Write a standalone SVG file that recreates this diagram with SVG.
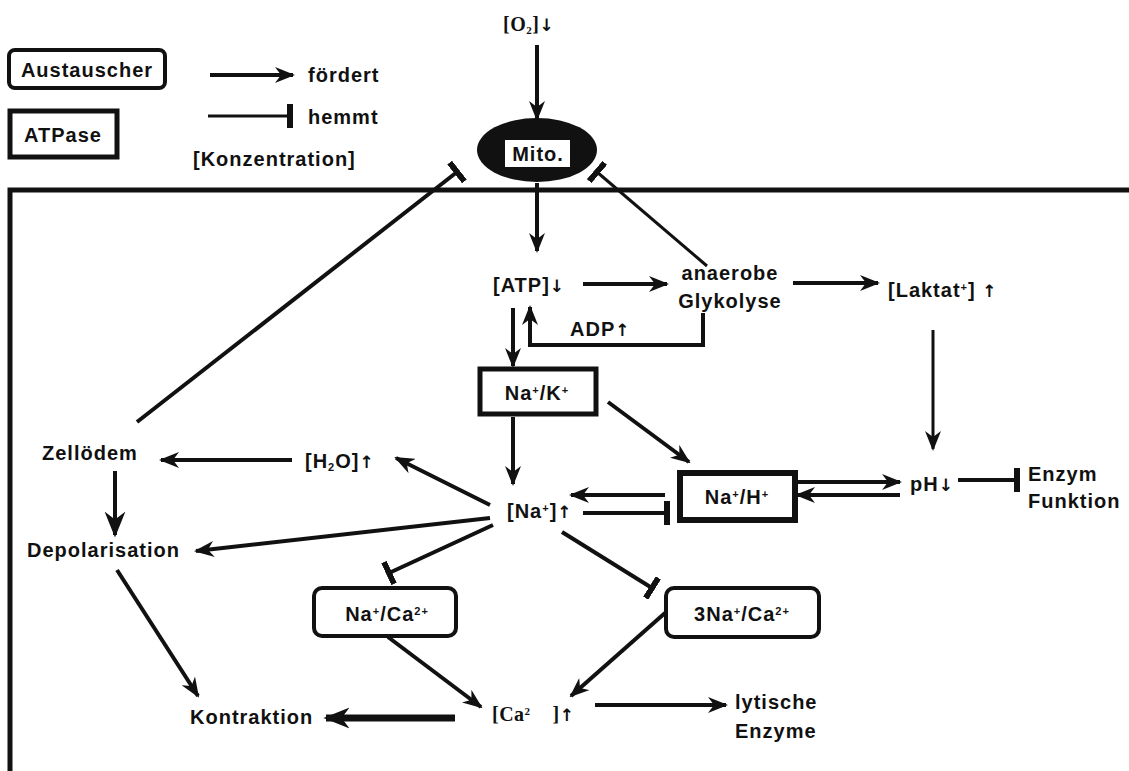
<svg xmlns="http://www.w3.org/2000/svg" width="1129" height="771" viewBox="0 0 1129 771">
<style>
  text { font-family: "Liberation Sans", Arial, sans-serif; font-weight: bold; font-size: 20px; letter-spacing: 1px; fill: #111; }
  .c { text-anchor: middle; }
  .serif { font-family: "Liberation Serif", "Times New Roman", serif; letter-spacing: 0.5px; font-size: 20px; }
  .sup { font-size: 11px; }
  .ar { font-family: "DejaVu Sans", sans-serif; font-weight: bold; font-size: 17px; letter-spacing: 0; }
  .ln { fill: none; stroke: #111; stroke-width: 4; }
  .thin { stroke-width: 3; }
  .thick { stroke-width: 7; }
  .arr { marker-end: url(#ah); }
  .arrb { marker-end: url(#ahb); }
  .inh { marker-end: url(#bar); }
  .box { fill: #fff; stroke: #111; }
</style>
<defs>
  <marker id="ah" viewBox="0 0 20 16" refX="18" refY="8" markerWidth="20" markerHeight="16" markerUnits="userSpaceOnUse" orient="auto">
    <path d="M0,0 L20,8 L0,16 L6,8 z" fill="#111"/>
  </marker>
  <marker id="ahb" viewBox="0 0 20 16" refX="18" refY="8" markerWidth="26" markerHeight="22" markerUnits="userSpaceOnUse" orient="auto">
    <path d="M0,0 L20,8 L0,16 L6,8 z" fill="#111"/>
  </marker>
  <marker id="bar" viewBox="0 0 6 24" refX="3" refY="12" markerWidth="6" markerHeight="24" markerUnits="userSpaceOnUse" orient="auto">
    <rect x="0" y="0" width="6" height="24" fill="#111"/>
  </marker>
</defs>
<rect width="1129" height="771" fill="#fff"/>

<!-- cell membrane -->
<path d="M10,771 V190 H1129" fill="none" stroke="#111" stroke-width="5"/>

<!-- legend -->
<g id="legend">
  <rect x="9" y="50" width="156" height="38" rx="6" class="box" stroke-width="4"/>
  <text x="87" y="77" class="c">Austauscher</text>
  <rect x="10" y="111" width="107" height="46" class="box" stroke-width="5"/>
  <text x="63" y="142" class="c">ATPase</text>
  <line x1="210" y1="75" x2="293" y2="75" class="ln arr"/>
  <text x="308" y="82">fördert</text>
  <line x1="208" y1="116" x2="290" y2="116" class="ln thin inh"/>
  <text x="308" y="124">hemmt</text>
  <text x="193" y="166">[Konzentration]</text>
</g>

<!-- connectors -->
<g id="connectors">
  <line x1="537" y1="45" x2="537" y2="119" class="ln arr"/>
  <line x1="537" y1="183" x2="537" y2="251" class="ln arr"/>
  <line x1="707" y1="266" x2="597" y2="172" class="ln thin inh"/>
  <line x1="137" y1="422" x2="457" y2="172" class="ln inh"/>
  <line x1="583" y1="284" x2="667" y2="284" class="ln arr"/>
  <line x1="793" y1="283" x2="878" y2="283" class="ln arr"/>
  <path d="M703,313 V345 H530 V307" class="ln arr"/>
  <line x1="513" y1="308" x2="513" y2="366" class="ln arr"/>
  <line x1="513" y1="417" x2="513" y2="484" class="ln arr"/>
  <line x1="608" y1="402" x2="689" y2="462" class="ln arr"/>
  <line x1="665" y1="495" x2="571" y2="495" class="ln arr"/>
  <line x1="583" y1="513" x2="667" y2="513" class="ln inh"/>
  <line x1="798" y1="482" x2="900" y2="482" class="ln arr"/>
  <line x1="900" y1="495" x2="797" y2="495" class="ln arr"/>
  <line x1="933" y1="330" x2="933" y2="449" class="ln thin arr"/>
  <line x1="958" y1="480" x2="1017" y2="480" class="ln inh"/>
  <line x1="490" y1="505" x2="396" y2="458" class="ln arr"/>
  <line x1="292" y1="460" x2="161" y2="460" class="ln arr"/>
  <line x1="115" y1="471" x2="115" y2="535" class="ln arrb" stroke-width="6"/>
  <line x1="490" y1="518" x2="196" y2="551" class="ln arr"/>
  <line x1="493" y1="525" x2="389" y2="573" class="ln inh"/>
  <line x1="562" y1="532" x2="652" y2="588" class="ln inh"/>
  <line x1="117" y1="570" x2="198" y2="696" class="ln arr"/>
  <line x1="388" y1="637" x2="481" y2="707" class="ln arr"/>
  <line x1="665" y1="613" x2="571" y2="696" class="ln arr"/>
  <line x1="455" y1="718" x2="326" y2="718" class="ln thick arrb"/>
  <line x1="595" y1="705" x2="726" y2="705" class="ln arr"/>
</g>

<!-- nodes -->
<g id="o2">
  <text x="503" y="31" class="serif">[O<tspan class="sup" dy="3">2</tspan><tspan dy="-3">]</tspan><tspan class="ar">↓</tspan></text>
</g>
<g id="mito">
  <ellipse cx="537" cy="150" rx="60" ry="32" fill="#111"/>
  <rect x="505" y="140" width="65" height="27" fill="#fff"/>
  <text x="538" y="161" class="c">Mito.</text>
</g>
<g id="atp"><text x="493" y="292">[ATP]<tspan class="ar">↓</tspan></text></g>
<g id="glykolyse">
  <text x="730" y="280" class="c">anaerobe</text>
  <text x="730" y="308" class="c">Glykolyse</text>
</g>
<g id="laktat"><text x="888" y="297">[Laktat<tspan class="sup" baseline-shift="super">+</tspan>] <tspan class="ar">↑</tspan></text></g>
<g id="adp"><text x="570" y="336">ADP<tspan class="ar">↑</tspan></text></g>
<g id="nak">
  <rect x="480" y="369" width="116" height="45" class="box" stroke-width="5"/>
  <text x="537" y="400" class="c">Na<tspan class="sup" baseline-shift="super">+</tspan>/K<tspan class="sup" baseline-shift="super">+</tspan></text>
</g>
<g id="na"><text x="507" y="518">[Na<tspan class="sup" baseline-shift="super">+</tspan>]<tspan class="ar">↑</tspan></text></g>
<g id="nah">
  <rect x="680" y="473" width="115" height="47" class="box" stroke-width="6"/>
  <text x="737" y="504" class="c">Na<tspan class="sup" baseline-shift="super">+</tspan>/H<tspan class="sup" baseline-shift="super">+</tspan></text>
</g>
<g id="ph"><text x="910" y="491">pH<tspan class="ar">↓</tspan></text></g>
<g id="enzym">
  <text x="1028" y="481">Enzym</text>
  <text x="1028" y="508">Funktion</text>
</g>
<g id="h2o"><text x="305" y="468">[H<tspan class="sup" dy="3">2</tspan><tspan dy="-3">O]</tspan><tspan class="ar">↑</tspan></text></g>
<g id="zelloedem"><text x="42" y="460">Zellödem</text></g>
<g id="depol"><text x="27" y="557">Depolarisation</text></g>
<g id="naca">
  <rect x="314" y="588" width="142" height="48" rx="8" class="box" stroke-width="4"/>
  <text x="387" y="621" class="c">Na<tspan class="sup" baseline-shift="super">+</tspan>/Ca<tspan class="sup" baseline-shift="super">2+</tspan></text>
</g>
<g id="naca3">
  <rect x="666" y="588" width="153" height="49" rx="8" class="box" stroke-width="4"/>
  <text x="742" y="621" class="c">3Na<tspan class="sup" baseline-shift="super">+</tspan>/Ca<tspan class="sup" baseline-shift="super">2+</tspan></text>
</g>
<g id="ca"><text x="492" y="721" class="serif" xml:space="preserve">[Ca<tspan class="sup" baseline-shift="super">2</tspan>    ]<tspan class="ar">↑</tspan></text></g>
<g id="kontraktion"><text x="190" y="724">Kontraktion</text></g>
<g id="lytisch">
  <text x="735" y="709">lytische</text>
  <text x="735" y="738">Enzyme</text>
</g>
</svg>
